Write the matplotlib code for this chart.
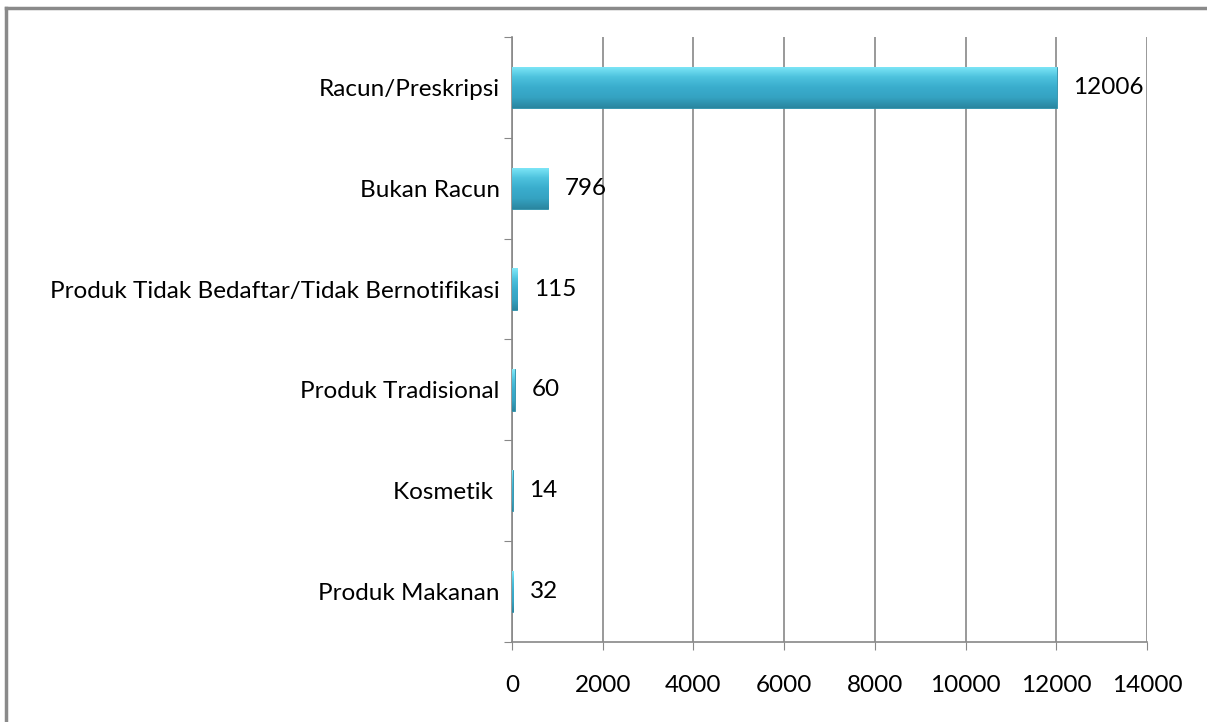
import matplotlib.pyplot as plt
import numpy as np
from matplotlib.lines import Line2D
from matplotlib.colors import LinearSegmentedColormap

# data (top to bottom)
categories = ['Racun/Preskripsi', 'Bukan Racun',
              'Produk Tidak Bedaftar/Tidak Bernotifikasi',
              'Produk Tradisional', 'Kosmetik ', 'Produk Makanan']
values = [12006, 796, 115, 60, 14, 32]
xticks = [0, 2000, 4000, 6000, 8000, 10000, 12000, 14000]

plt.rcParams['font.family'] = ['Lato', 'DejaVu Sans']
fs = 17.5

fig = plt.figure(figsize=(12.07, 7.22), dpi=100)
ax = fig.add_axes([512/1207, 1 - 642/722, 635/1207, 605/722])

n = len(categories)
y = np.arange(n)[::-1]

bars = ax.barh(y, values, height=0.41, color='#3AADCD', edgecolor='#2B8EA8',
               linewidth=0.6, zorder=3)

# vertical gradient inside each bar (light cyan top -> teal -> dark bottom)
cmap = LinearSegmentedColormap.from_list(
    'bevel', ['#2A86A0', '#35A3C2', '#3AADCD', '#4EC3DE', '#80E8F8'])
grad = np.linspace(0, 1, 64).reshape(-1, 1)
for b in bars:
    x0, y0 = b.get_x(), b.get_y()
    w, h = b.get_width(), b.get_height()
    im = ax.imshow(grad, cmap=cmap, aspect='auto', origin='lower',
                   extent=[x0, x0 + w, y0, y0 + h], zorder=4)
    im.set_clip_path(b)

for yi, v in zip(y, values):
    ax.annotate(str(v), (v, yi), xytext=(12, 0), textcoords='offset points',
                va='center', ha='left', fontsize=fs, color='#000000')

ax.set_xlim(0, 14000)
ax.set_ylim(-0.5, n - 0.5)
ax.set_xticks(xticks)
ax.set_xticklabels([str(t) for t in xticks], fontsize=fs)
ax.tick_params(axis='x', length=6, color='#888888', pad=18)

# category boundaries get the ticks, labels sit in the middle
ax.set_yticks(np.arange(n + 1) - 0.5)
ax.set_yticklabels([])
ax.set_yticks(y, minor=True)
ax.set_yticklabels(categories, minor=True, fontsize=fs)
ax.tick_params(axis='y', which='major', length=6, color='#888888')
ax.tick_params(axis='y', which='minor', length=0, pad=9)

ax.grid(axis='x', color='#888888', linewidth=1.2, zorder=0)
for s in ['top', 'right']:
    ax.spines[s].set_visible(False)
for s in ['left', 'bottom']:
    ax.spines[s].set_color('#888888')
    ax.spines[s].set_linewidth(1.2)

# outer frame (top and left visible)
fig.add_artist(Line2D([5.5/1207, 5.5/1207], [0, 1 - 7.5/722],
                      color='#8a8a8a', linewidth=2.5))
fig.add_artist(Line2D([5.5/1207, 1], [1 - 7.5/722, 1 - 7.5/722],
                      color='#8a8a8a', linewidth=2.5))

fig.savefig('out.png', dpi=100)
